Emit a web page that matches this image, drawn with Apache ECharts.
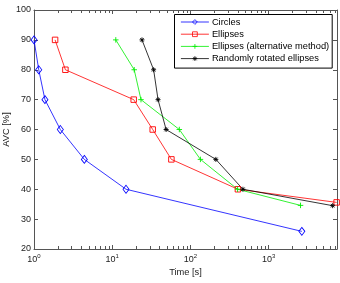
<!DOCTYPE html>
<html>
<head>
<meta charset="utf-8">
<script src="https://cdn.jsdelivr.net/npm/echarts@6/dist/echarts.min.js"></script>
<style>
  html, body { margin: 0; padding: 0; background: #fff; }
  #chart { width: 340px; height: 283px; }
</style>
</head>
<body>
<div id="chart"></div>
<script>
// data
const seriesNames = ['Circles', 'Ellipses', 'Ellipses (alternative method)', 'Randomly rotated ellipses'];
const circles = [[1.0, 90], [1.15, 80], [1.38, 70], [2.17, 60], [4.4, 50], [15, 40], [2650, 25.9]];
const ellipses = [[1.86, 90], [2.52, 80], [18.8, 70], [32.9, 60], [57, 50], [404, 40], [7380, 35.6]];
const ellipsesAlt = [[11.1, 90], [19.1, 80], [23.3, 70], [72, 60], [134, 50], [400, 40], [2550, 34.6]];
const randomEllipses = [[24, 90], [33.8, 80], [38.5, 70], [48.8, 60], [211, 50], [468, 40], [6560, 34.5]];
const yTicks = [20, 30, 40, 50, 60, 70, 80, 90, 100];
const xDecades = [1, 10, 100, 1000];
const colors = ['#0000ff', '#ff0000', '#00ee00', '#000000'];

const xMin = 1, xMax = 7460;
// minor log ticks 2..9 x 10^k
const minorTicks = [];
xDecades.forEach(d => {
  for (let m = 2; m <= 9; m++) {
    if (d * m < xMax) minorTicks.push([d * m, 20]);
  }
});

const plusPath = 'path://M5,0L5,10M0,5L10,5';
const starPath = 'path://M5,0L5,10M0,5L10,5M1.5,1.5L8.5,8.5M8.5,1.5L1.5,8.5';

const myChart = echarts.init(document.getElementById('chart'), null, { renderer: 'canvas' });

function lineSeries(name, data, color, symbol, size) {
  return {
    name: name,
    type: 'line',
    data: data,
    symbol: symbol,
    symbolSize: size,
    showAllSymbol: true,
    clip: false,
    lineStyle: { color: color, width: 0.8 },
    itemStyle: { color: 'rgba(0,0,0,0)', borderColor: color, borderWidth: 0.9 },
    emphasis: { disabled: true },
    animation: false,
    z: 3
  };
}

// minor tick marks on bottom and top edges, placed through the axis scale
function minorTickItem(params, api) {
  const v = api.value(0);
  const bottom = api.coord([v, 20]);
  const top = api.coord([v, 100]);
  const x = Math.round(bottom[0]) + 0.5;
  return {
    type: 'path',
    shape: {
      pathData: 'M' + x + ',' + bottom[1] + 'L' + x + ',' + (bottom[1] - 3) +
        'M' + x + ',' + top[1] + 'L' + x + ',' + (top[1] + 3)
    },
    style: { stroke: '#555', lineWidth: 1, fill: null }
  };
}

const fontFamily = '"Liberation Sans", Arial, sans-serif';

const option = {
  animation: false,
  grid: { left: 34, top: 10, right: 3, bottom: 34, containLabel: false, outerBoundsMode: 'none' },
  legend: {
    data: seriesNames.map((n, i) => ({
      name: n,
      itemStyle: { color: 'rgba(0,0,0,0)', borderColor: colors[i], borderWidth: 0.8 },
      lineStyle: { color: colors[i], width: 0.8 }
    })),
    orient: 'vertical',
    left: 174.5,
    top: 14.5,
    padding: [3, 3, 5, 6],
    itemGap: 3.2,
    itemWidth: 28,
    itemHeight: 6,
    backgroundColor: '#fff',
    borderColor: '#000',
    borderWidth: 1,
    borderRadius: 0,
    textStyle: { fontSize: 9.3, fontFamily: fontFamily, color: '#000', padding: [0, 0, 0, -2] }
  },
  xAxis: [
    {
      type: 'log',
      logBase: 10,
      min: xMin,
      max: xMax,
      name: 'Time [s]',
      nameLocation: 'middle',
      nameGap: 19,
      nameMoveOverlap: false,
      nameTextStyle: { fontSize: 9.3, fontFamily: fontFamily, color: '#222' },
      axisLine: { lineStyle: { color: '#555', width: 1 } },
      axisTick: { inside: true, length: 4, lineStyle: { color: '#555' } },
      splitLine: { show: false },
      axisLabel: {
        showMaxLabel: false,
        margin: 4,
        color: '#222',
        fontFamily: fontFamily,
        formatter: function (v) {
          const e = Math.log10(v);
          if (Math.abs(e - Math.round(e)) > 1e-6) return '';
          return '10{sup|' + Math.round(e) + '}';
        },
        rich: {
          sup: { fontSize: 6, verticalAlign: 'bottom', padding: [0, 0, 7, 0], color: '#222', fontFamily: fontFamily }
        },
        fontSize: 9
      }
    },
    {
      type: 'log',
      logBase: 10,
      min: xMin,
      max: xMax,
      position: 'top',
      axisLine: { lineStyle: { color: '#555', width: 1 } },
      axisTick: { inside: true, length: 4, lineStyle: { color: '#555' } },
      axisLabel: { show: false },
      splitLine: { show: false }
    }
  ],
  yAxis: [
    {
      type: 'value',
      min: 20,
      max: 100,
      interval: 10,
      name: 'AVC [%]',
      nameLocation: 'middle',
      nameGap: 23,
      nameMoveOverlap: false,
      nameTextStyle: { fontSize: 9.3, fontFamily: fontFamily, color: '#222' },
      axisLine: { show: true, lineStyle: { color: '#555', width: 1 } },
      axisTick: { show: true, inside: true, length: 4, lineStyle: { color: '#555' } },
      splitLine: { show: false },
      axisLabel: {
        margin: 3,
        fontSize: 9,
        color: '#222',
        fontFamily: fontFamily,
        formatter: function (v) { return yTicks.indexOf(v) >= 0 ? String(v) : ''; }
      }
    },
    {
      type: 'value',
      min: 20,
      max: 100,
      interval: 10,
      position: 'right',
      axisLine: { show: true, lineStyle: { color: '#555', width: 1 } },
      axisTick: { show: true, inside: true, length: 4, lineStyle: { color: '#555' } },
      axisLabel: { show: false },
      splitLine: { show: false }
    }
  ],
  series: [
    lineSeries(seriesNames[0], circles, colors[0], 'diamond', [6, 8]),
    lineSeries(seriesNames[1], ellipses, colors[1], 'rect', 5.5),
    lineSeries(seriesNames[2], ellipsesAlt, colors[2], plusPath, 5.5),
    lineSeries(seriesNames[3], randomEllipses, colors[3], starPath, 5),
    {
      type: 'custom',
      name: 'minorTicks',
      coordinateSystem: 'cartesian2d',
      xAxisIndex: 0,
      yAxisIndex: 0,
      silent: true,
      animation: false,
      clip: false,
      data: minorTicks,
      encode: { x: 0, y: 1 },
      renderItem: minorTickItem,
      z: 4
    }
  ]
};

myChart.setOption(option);
</script>
</body>
</html>
